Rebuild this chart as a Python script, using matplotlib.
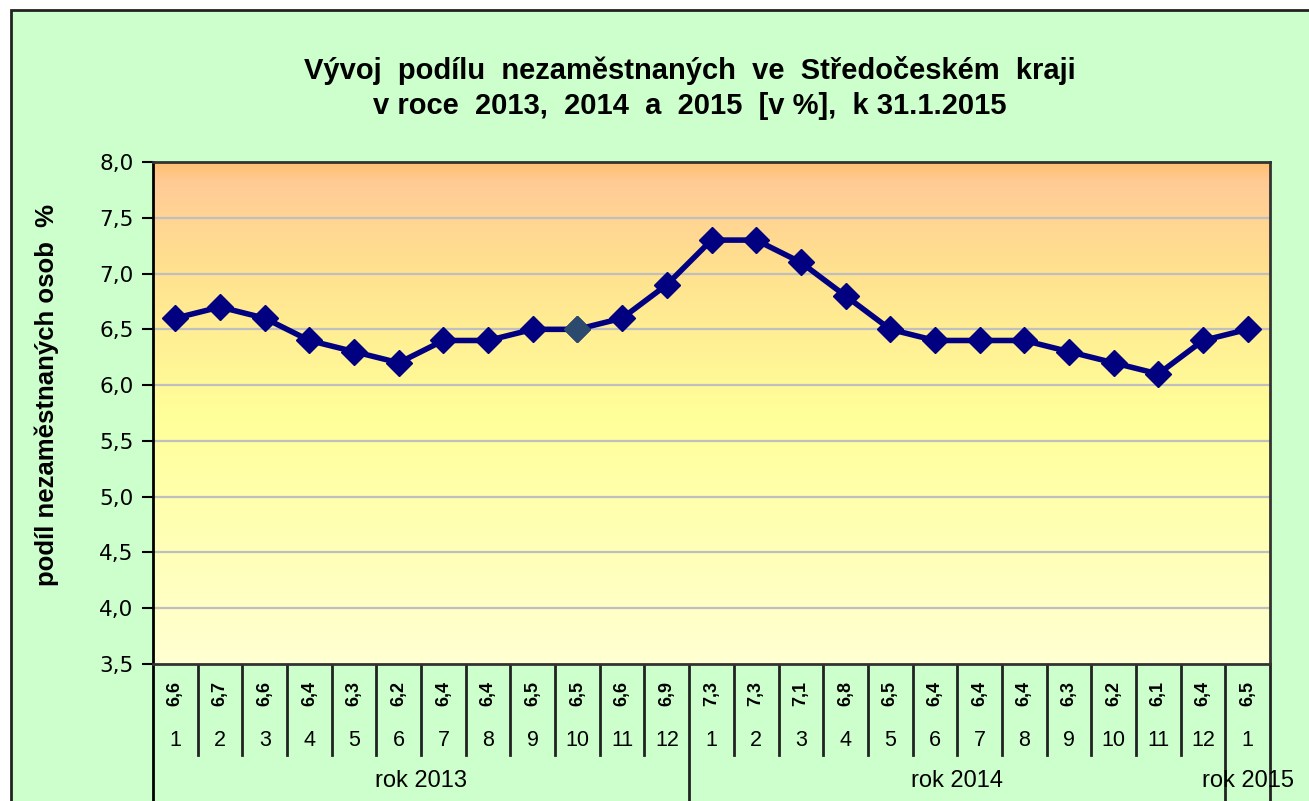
import numpy as np
import matplotlib
matplotlib.use("Agg")
import matplotlib.pyplot as plt
from matplotlib.colors import LinearSegmentedColormap
from matplotlib.patches import Rectangle
from matplotlib.lines import Line2D
from matplotlib.transforms import blended_transform_factory

# ---- data ----
values = [6.6, 6.7, 6.6, 6.4, 6.3, 6.2, 6.4, 6.4, 6.5, 6.5, 6.6, 6.9,
          7.3, 7.3, 7.1, 6.8, 6.5, 6.4, 6.4, 6.4, 6.3, 6.2, 6.1, 6.4, 6.5]
months = [1, 2, 3, 4, 5, 6, 7, 8, 9, 10, 11, 12,
          1, 2, 3, 4, 5, 6, 7, 8, 9, 10, 11, 12, 1]
year_labels = ["rok 2013", "rok 2014", "rok 2015"]
year_counts = [12, 12, 1]
highlight_index = 9
yticks = [3.5, 4.0, 4.5, 5.0, 5.5, 6.0, 6.5, 7.0, 7.5, 8.0]
title = "Vývoj  podílu  nezaměstnaných  ve  Středočeském  kraji\nv roce  2013,  2014  a  2015  [v %],  k 31.1.2015"
ylabel = "podíl nezaměstnaných osob  %"

W, H = 1309, 801
plt.rcParams['font.family'] = ['Liberation Sans', 'DejaVu Sans']
fig = plt.figure(figsize=(W / 100, H / 100), dpi=100, facecolor='white')

def fx(p):
    return p / W

def fy(p):
    return 1 - p / H

# outer green frame
fig.patches.append(Rectangle((fx(11), -0.05), 1.1, fy(10) + 0.05, transform=fig.transFigure,
                             facecolor='#CCFFCC', edgecolor='#222222', linewidth=2, zorder=-10))

L, R, T, B = 153, 1270, 162, 664
ax = fig.add_axes([fx(L), fy(B), fx(R) - fx(L), fy(T) - fy(B)])
ax.set_zorder(2)
ax.set_facecolor('none')

n = len(values)
x = np.arange(n)
ax.set_xlim(-0.5, n - 0.5)
ax.set_ylim(3.5, 8.0)

# gradient background
stops = [(0.0, '#FFFFD2'), (0.50, '#FFFF99'), (0.80, '#FFE08F'), (0.96, '#FFCB96'), (1.0, '#FFC070')]
cmap = LinearSegmentedColormap.from_list('g', stops)
grad = np.linspace(0, 1, 256).reshape(-1, 1)
ax.imshow(grad, cmap=cmap, origin='lower', aspect='auto',
          extent=[-0.5, n - 0.5, 3.5, 8.0], zorder=0, interpolation='bilinear')

for yv in yticks[1:-1]:
    ax.axhline(yv, color='#BFBFBF', linewidth=1.6, zorder=1)

ax.plot(x, values, color='#000080', linewidth=4, marker='D', markersize=13.5,
        markerfacecolor='#000080', markeredgecolor='#000080', zorder=3)
ax.plot([x[highlight_index]], [values[highlight_index]], linestyle='none', marker='D',
        markersize=13.5, markerfacecolor='#2C4A6E', markeredgecolor='#2C4A6E', zorder=4)

ax.set_yticks(yticks)
ax.set_yticklabels([f"{v:.1f}".replace('.', ',') for v in yticks], fontsize=15.5,
                   family=['DejaVu Sans'])
ax.set_xticks([])
ax.tick_params(axis='y', direction='out', length=8, width=1.5, color='black', pad=6)
for s in ax.spines.values():
    s.set_color('#333333')
    s.set_linewidth(2)
ax.spines['left'].set_color('black')

fig.text(fx(47), fy(395), ylabel, rotation=90, ha='center', va='center',
         fontsize=18.5, fontweight='bold')

fig.text(fx(690), fy(88), title, ha='center', va='center', fontsize=21,
         fontweight='bold', linespacing=1.3)

# ---- category table below axis ----
tr = blended_transform_factory(ax.transData, fig.transFigure)
lc = '#222222'
fig.add_artist(Line2D([fx(L), fx(L)], [fy(B), 0], transform=fig.transFigure, color='black', linewidth=2))
bounds_long = {0}
acc = 0
for c in year_counts:
    acc += c
    bounds_long.add(acc)
for b in range(1, n + 1):
    xb = b - 0.5
    ybot = 0 if b in bounds_long else fy(755)
    fig.add_artist(Line2D([xb, xb], [fy(B), ybot], transform=tr, color=lc, linewidth=2))

for i in range(n):
    fig.text(x[i], fy(694), f"{values[i]:.1f}".replace('.', ','), transform=tr, rotation=90,
             ha='center', va='center', fontsize=13, fontweight='bold')
    fig.text(x[i], fy(740), str(months[i]), transform=tr, ha='center', va='center', fontsize=15.5)

acc = 0
for lab, c in zip(year_labels, year_counts):
    center = acc + c / 2 - 0.5
    fig.text(center, fy(781), lab, transform=tr, ha='center', va='center', fontsize=17)
    acc += c

fig.savefig('out.png', dpi=100, facecolor='white')
